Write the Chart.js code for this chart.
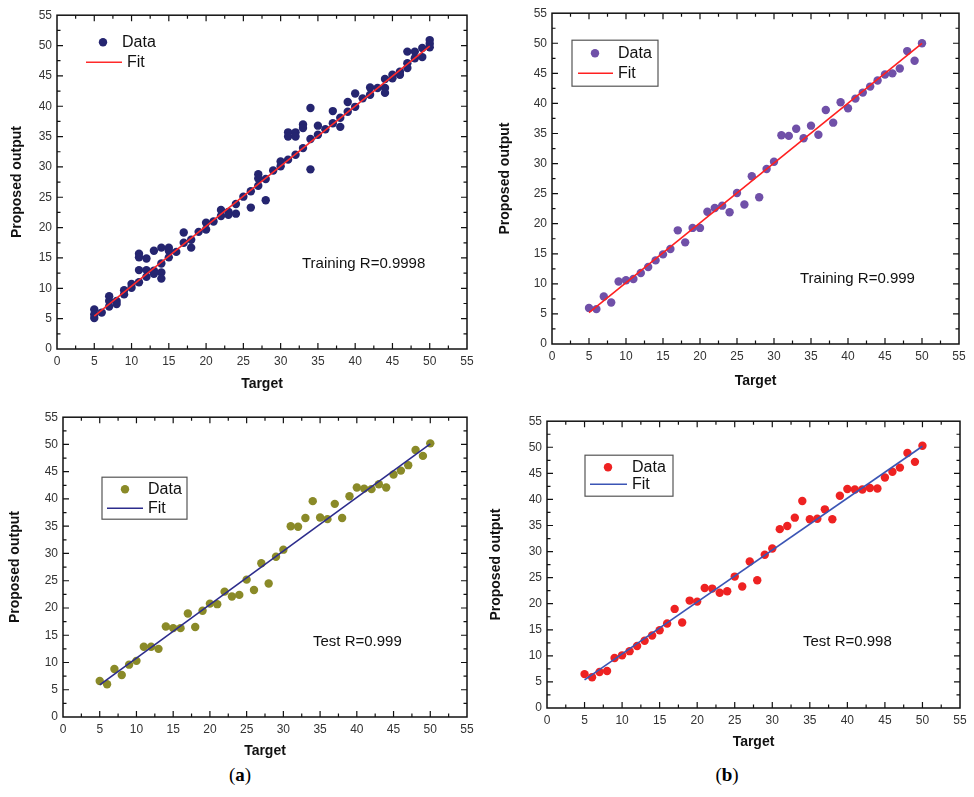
<!DOCTYPE html>
<html>
<head>
  <meta charset="utf-8">
  <title>Target vs Proposed output</title>
  <script src="https://cdn.jsdelivr.net/npm/chart.js"></script>
  <style>
    body { margin: 0; background: #fff; font-family: "Liberation Sans", Arial, sans-serif; }
    .panel { position: absolute; }
    #pa { left: 5px;   top: 3px;   width: 474px; height: 394px; }
    #pb { left: 493px; top: 1px;   width: 481px; height: 393px; }
    #pc { left: 3px;   top: 405px; width: 476px; height: 359px; }
    #pd { left: 484px; top: 409px; width: 490px; height: 346px; }
    .cap { position: absolute; font-family: "Liberation Serif", serif; font-size: 19px; transform: translate(-50%, -50%); }
  </style>
</head>
<body>
  <div class="panel" id="pa"><canvas id="chartA"></canvas></div>
  <div class="panel" id="pb"><canvas id="chartB"></canvas></div>
  <div class="panel" id="pc"><canvas id="chartC"></canvas></div>
  <div class="panel" id="pd"><canvas id="chartD"></canvas></div>
  <div class="cap" style="left:240px; top:775px;">(<b>a</b>)</div>
  <div class="cap" style="left:727px; top:775px;">(<b>b</b>)</div>

  <script>
    // axis range shared by all four panels
    const axisMin = 0;
    const axisMax = 55;
    const axisStep = 5;

    // (a) training: several samples per target value
    const trainA_x = [5,5,5,6,7,7,7,8,8,9,9,10,10,11,11,11,11,12,12,12,13,13,13,14,14,14,14,15,15,15,16,17,17,18,18,19,20,20,21,22,22,23,23,24,24,25,26,26,27,27,27,28,28,29,30,30,31,31,31,32,32,32,33,33,33,34,34,34,35,35,36,37,37,38,38,39,39,40,40,41,42,42,43,44,44,44,45,45,46,46,47,47,47,48,48,49,49,50,50,50];
    const trainA_y = [6.5,5.7,5.1,6.0,8.7,7.9,7.0,7.9,7.4,9.7,9.0,10.7,10.1,15.7,15.1,13.0,11.0,14.9,13.0,11.9,16.2,12.9,12.4,16.7,14.1,12.6,11.6,16.7,16.2,15.1,16.0,19.2,17.5,18.0,16.7,19.3,20.8,19.7,21.0,22.9,21.9,22.6,22.1,23.9,22.3,25.1,26.0,23.3,28.8,28.1,26.9,28.0,24.5,29.4,30.9,30.1,35.7,35.0,31.2,35.7,35.0,32.0,37.0,36.4,33.1,39.7,34.6,29.6,36.8,35.3,36.2,39.2,37.2,38.1,36.6,40.7,39.1,42.1,39.9,41.3,43.1,41.9,43.0,44.5,43.0,42.2,44.6,45.2,45.7,45.2,49.0,47.1,46.3,49.0,47.9,49.6,48.1,50.9,50.3,49.7];
    const fitA_x = [5, 50];
    const fitA_y = [5.4, 49.9];

    // target values used by the other three panels
    const target = [5,6,7,8,9,10,11,12,13,14,15,16,17,18,19,20,21,22,23,24,25,26,27,28,29,30,31,32,33,34,35,36,37,38,39,40,41,42,43,44,45,46,47,48,49,50];

    // (b) training
    const trainB_y = [6.0,5.8,7.9,6.9,10.4,10.6,10.8,11.8,12.8,13.9,14.9,15.8,18.9,16.9,19.3,19.3,22.0,22.6,23.0,21.9,25.1,23.2,27.9,24.4,29.1,30.3,34.7,34.6,35.8,34.2,36.3,34.8,38.9,36.8,40.2,39.2,40.8,41.8,42.8,43.8,44.8,45.0,45.8,48.7,47.1,50.0];
    const fitB_x = [5, 50];
    const fitB_y = [5.2, 50.0];

    // (a) test
    const testA_y = [6.6,6.0,8.8,7.7,9.6,10.3,12.9,12.9,12.5,16.6,16.3,16.3,19.0,16.5,19.5,20.8,20.7,23.0,22.1,22.4,25.2,23.3,28.2,24.5,29.4,30.7,35.0,34.9,36.5,39.6,36.6,36.3,39.1,36.5,40.5,42.1,41.9,41.8,42.7,42.1,44.5,45.2,46.2,49.0,47.9,50.2];
    const fitC_x = [5, 50];
    const fitC_y = [5.9, 50.1];

    // (b) test
    const testB_y = [6.5,5.9,6.9,7.1,9.6,10.1,10.9,11.9,12.9,13.9,14.9,16.2,19.0,16.4,20.6,20.4,23.0,22.9,22.1,22.4,25.2,23.3,28.1,24.5,29.4,30.6,34.3,34.9,36.5,39.7,36.2,36.3,38.1,36.2,40.7,42.0,41.9,41.9,42.2,42.1,44.2,45.3,46.1,48.9,47.2,50.3];
    const fitD_x = [5, 50];
    const fitD_y = [5.4, 50.2];

    const FONT = '"Liberation Sans", Arial, sans-serif';

    function pairs(xs, ys) {
      return xs.map((x, i) => ({ x: x, y: ys[i] }));
    }

    // frame with inward ticks on all four sides, legend and R note
    function decorPlugin(cfg) {
      return {
        id: 'decor',
        afterDraw(chart) {
          const ctx = chart.ctx;
          const a = chart.chartArea;
          const xs = chart.scales.x, ys = chart.scales.y;
          ctx.save();
          ctx.strokeStyle = '#111';
          ctx.lineWidth = 1.5;
          ctx.strokeRect(a.left, a.top, a.right - a.left, a.bottom - a.top);
          ctx.lineWidth = 1.2;
          ctx.beginPath();
          for (let v = axisMin + 2.5; v < axisMax; v += 2.5) {
            const len = (v % 5 === 0) ? 6 : 3.5;
            const px = xs.getPixelForValue(v);
            ctx.moveTo(px, a.bottom); ctx.lineTo(px, a.bottom - len);
            ctx.moveTo(px, a.top); ctx.lineTo(px, a.top + len);
            const py = ys.getPixelForValue(v);
            ctx.moveTo(a.left, py); ctx.lineTo(a.left + len, py);
            ctx.moveTo(a.right, py); ctx.lineTo(a.right - len, py);
          }
          ctx.stroke();

          // legend
          const lg = cfg.legend;
          if (lg.box) {
            ctx.fillStyle = '#fff';
            ctx.fillRect(a.left + lg.box[0], a.top + lg.box[1], lg.box[2], lg.box[3]);
            ctx.strokeStyle = '#555';
            ctx.lineWidth = 1.2;
            ctx.strokeRect(a.left + lg.box[0], a.top + lg.box[1], lg.box[2], lg.box[3]);
          }
          ctx.fillStyle = cfg.dotColor;
          ctx.beginPath();
          ctx.arc(a.left + lg.dot[0], a.top + lg.dot[1], 4.2, 0, Math.PI * 2);
          ctx.fill();
          ctx.strokeStyle = cfg.fitColor;
          ctx.lineWidth = 1.6;
          ctx.beginPath();
          ctx.moveTo(a.left + lg.line[0], a.top + lg.line[2]);
          ctx.lineTo(a.left + lg.line[1], a.top + lg.line[2]);
          ctx.stroke();
          ctx.fillStyle = '#111';
          ctx.font = '16px ' + FONT;
          ctx.textBaseline = 'middle';
          ctx.textAlign = 'left';
          ctx.fillText('Data', a.left + lg.text, a.top + lg.dot[1]);
          ctx.fillText('Fit', a.left + (lg.fitText || lg.text), a.top + lg.line[2]);

          // R note
          ctx.font = '15px ' + FONT;
          ctx.fillText(cfg.note, a.left + cfg.notePos[0], a.top + cfg.notePos[1]);
          ctx.restore();
        }
      };
    }

    function makePanel(canvasId, pts, fit, cfg) {
      const axisCommon = {
        type: 'linear',
        min: axisMin,
        max: axisMax,
        grid: { display: false, drawTicks: false },
        border: { display: false }
      };
      new Chart(document.getElementById(canvasId), {
        type: 'scatter',
        data: {
          datasets: [
            {
              label: 'Fit',
              type: 'line',
              data: fit,
              borderColor: cfg.fitColor,
              borderWidth: 1.6,
              pointRadius: 0,
              fill: false,
              order: 1
            },
            {
              label: 'Data',
              data: pts,
              backgroundColor: cfg.dotColor,
              pointRadius: 4.2,
              pointBorderWidth: 0,
              pointHoverRadius: 4.2,
              order: 2
            }
          ]
        },
        options: {
          responsive: true,
          maintainAspectRatio: false,
          animation: false,
          layout: { padding: { top: cfg.padTop, right: cfg.padRight, left: 0, bottom: 0 } },
          plugins: { legend: { display: false }, tooltip: { enabled: false } },
          scales: {
            x: Object.assign({}, axisCommon, {
              ticks: { stepSize: axisStep, padding: 5, color: '#333', font: { size: 12, family: FONT } },
              title: { display: true, text: 'Target', color: '#111', font: { size: 14, weight: 'bold', family: FONT } },
              afterFit(s) { s.height = cfg.xAxisH; }
            }),
            y: Object.assign({}, axisCommon, {
              ticks: { stepSize: axisStep, padding: 5, color: '#333', font: { size: 12, family: FONT } },
              title: { display: true, text: 'Proposed output', color: '#111', font: { size: 14, weight: 'bold', family: FONT } },
              afterFit(s) { s.width = cfg.yAxisW; }
            })
          }
        },
        plugins: [decorPlugin(cfg)]
      });
    }

    makePanel('chartA', pairs(trainA_x, trainA_y), pairs(fitA_x, fitA_y), {
      dotColor: '#252570', fitColor: '#ff2a2a',
      padTop: 10, padRight: 12, yAxisW: 52, xAxisH: 48,
      legend: { box: null, dot: [46, 27], line: [29, 65, 47], text: 65, fitText: 70 },
      note: 'Training R=0.9998', notePos: [245, 249]
    });
    makePanel('chartB', pairs(target, trainB_y), pairs(fitB_x, fitB_y), {
      dotColor: '#7050a8', fitColor: '#ff2020',
      padTop: 10, padRight: 15, yAxisW: 59, xAxisH: 50,
      legend: { box: [20, 27, 86, 46], dot: [43, 40], line: [26, 61, 60], text: 66 },
      note: 'Training R=0.999', notePos: [248, 266]
    });
    makePanel('chartC', pairs(target, testA_y), pairs(fitC_x, fitC_y), {
      dotColor: '#8a8a28', fitColor: '#2c2c8c',
      padTop: 12, padRight: 12, yAxisW: 60, xAxisH: 47,
      legend: { box: [39, 60, 85, 42], dot: [62, 72], line: [44, 80, 91], text: 85 },
      note: 'Test R=0.999', notePos: [250, 225]
    });
    makePanel('chartD', pairs(target, testB_y), pairs(fitD_x, fitD_y), {
      dotColor: '#ee2222', fitColor: '#3b55b5',
      padTop: 12, padRight: 14, yAxisW: 63, xAxisH: 47,
      legend: { box: [38, 34, 88, 41], dot: [61, 46], line: [43, 80, 63], text: 85 },
      note: 'Test R=0.998', notePos: [256, 221]
    });
  </script>
</body>
</html>
